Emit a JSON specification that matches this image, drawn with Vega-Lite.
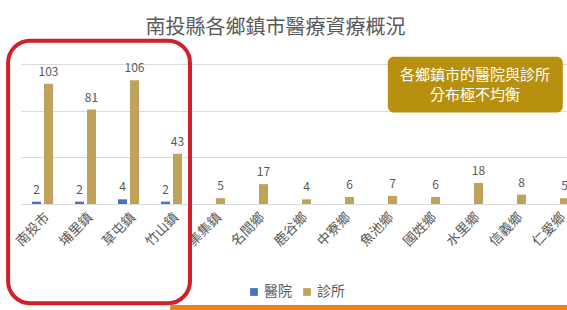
{
  "$schema": "https://vega.github.io/schema/vega-lite/v6.json",
  "width": 559,
  "height": 140,
  "autosize": {"type": "none"},
  "padding": {"left": 21, "top": 64, "right": 0, "bottom": 106},
  "background": "white",
  "config": {"view": {"stroke": null}, "font": "Noto Sans CJK TC"},
  "title": {"text": "南投縣各鄉鎮市醫療資療概況", "fontSize": 20, "font": "Noto Sans CJK TC", "fontWeight": "normal", "color": "#595959", "anchor": "middle", "dx": -25, "offset": 1},
  "datasets": {
    "main": [
      {"town": "南投市", "type": "醫院", "count": 2},
      {"town": "南投市", "type": "診所", "count": 103},
      {"town": "埔里鎮", "type": "醫院", "count": 2},
      {"town": "埔里鎮", "type": "診所", "count": 81},
      {"town": "草屯鎮", "type": "醫院", "count": 4},
      {"town": "草屯鎮", "type": "診所", "count": 106},
      {"town": "竹山鎮", "type": "醫院", "count": 2},
      {"town": "竹山鎮", "type": "診所", "count": 43},
      {"town": "集集鎮", "type": "診所", "count": 5},
      {"town": "名間鄉", "type": "診所", "count": 17},
      {"town": "鹿谷鄉", "type": "診所", "count": 4},
      {"town": "中寮鄉", "type": "診所", "count": 6},
      {"town": "魚池鄉", "type": "診所", "count": 7},
      {"town": "國姓鄉", "type": "診所", "count": 6},
      {"town": "水里鄉", "type": "診所", "count": 18},
      {"town": "信義鄉", "type": "診所", "count": 8},
      {"town": "仁愛鄉", "type": "診所", "count": 5}
    ]
  },
  "layer": [
    {
      "data": {"name": "main"},
      "encoding": {
        "x": {"field": "town", "type": "nominal", "sort": null,
          "scale": {"paddingInner": 0.51, "paddingOuter": 0.255},
          "axis": {"title": null, "labelAngle": -45, "labelFontSize": 13.5, "labelColor": "#595959", "domain": false, "ticks": false, "labelPadding": 6}},
        "xOffset": {"field": "type", "type": "nominal", "scale": {"domain": ["醫院", "診所"], "paddingInner": 0.25}},
        "y": {"field": "count", "type": "quantitative", "scale": {"domain": [0, 120], "nice": false},
          "axis": {"title": null, "labels": false, "ticks": false, "domain": false, "grid": true, "gridColor": "#D9D9D9", "values": [0, 20, 40, 60, 80, 100, 120]}}
      },
      "layer": [
        {
          "mark": {"type": "bar"},
          "encoding": {
            "color": {"field": "type", "type": "nominal",
              "scale": {"domain": ["醫院", "診所"], "range": ["#4472C4", "#BFA35A"]},
              "legend": {"title": null, "orient": "none", "legendX": 226, "legendY": 221, "direction": "horizontal", "labelFontSize": 14, "labelColor": "#595959", "symbolType": "square", "symbolSize": 60, "symbolStrokeWidth": 0, "columnPadding": 8, "labelOffset": 3}}
          }
        },
        {
          "mark": {"type": "text", "baseline": "bottom", "dy": -5, "fontSize": 12, "color": "#595959"},
          "encoding": {"text": {"field": "count", "type": "quantitative"}}
        }
      ]
    },
    {
      "layer": [
        {
          "data": {"values": [{"a": -0.3, "b": 3.93, "c": -85, "d": 140}]},
          "mark": {"type": "rect", "fill": "transparent", "stroke": "#D0202A", "strokeWidth": 4, "cornerRadius": 22},
          "encoding": {
            "x": {"field": "a", "type": "quantitative", "scale": {"domain": [0, 13], "nice": false, "zero": false}, "axis": null},
            "x2": {"field": "b"},
            "y": {"field": "c", "type": "quantitative"},
            "y2": {"field": "d"}
          }
        },
        {
          "data": {"values": [{"a": 8.53, "b": 12.6, "c": 78.5, "d": 126.2}]},
          "mark": {"type": "rect", "fill": "#B8900F", "cornerRadius": 6},
          "encoding": {
            "x": {"field": "a", "type": "quantitative", "axis": null},
            "x2": {"field": "b"},
            "y": {"field": "c", "type": "quantitative"},
            "y2": {"field": "d"}
          }
        },
        {
          "data": {"values": [{"a": 10.56, "c": 110.5, "t": "各鄉鎮市的醫院與診所"}, {"a": 10.56, "c": 93.5, "t": "分布極不均衡"}]},
          "mark": {"type": "text", "color": "white", "fontSize": 15, "align": "center", "baseline": "middle"},
          "encoding": {
            "x": {"field": "a", "type": "quantitative", "axis": null},
            "y": {"field": "c", "type": "quantitative"},
            "text": {"field": "t"}
          }
        },
        {
          "data": {"values": [{"a": 3.47, "b": 13.2, "c": -86.5, "d": -92}]},
          "mark": {"type": "rect", "fill": "#E8821E"},
          "encoding": {
            "x": {"field": "a", "type": "quantitative", "axis": null},
            "x2": {"field": "b"},
            "y": {"field": "c", "type": "quantitative"},
            "y2": {"field": "d"}
          }
        }
      ]
    }
  ],
  "resolve": {"scale": {"x": "independent"}}
}
